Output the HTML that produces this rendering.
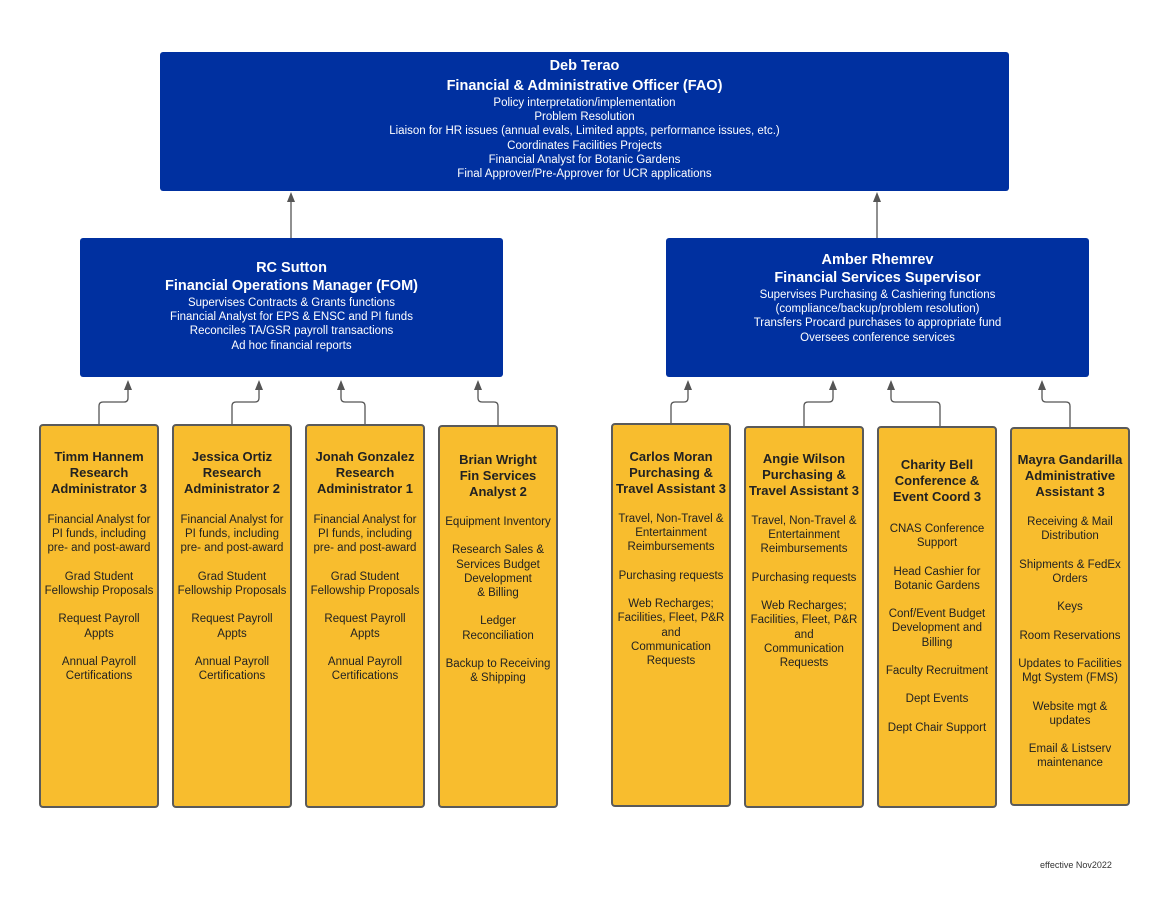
<!DOCTYPE html>
<html><head><meta charset="utf-8"><style>
*{margin:0;padding:0;box-sizing:border-box}
body{width:1169px;height:899px;background:#fff;position:relative;overflow:hidden;font-family:"Liberation Sans",Arial,sans-serif}
.b{position:absolute;background:#0030a0;border-radius:3px;color:#fff;text-align:center}
.y{position:absolute;background:#f8bd2e;border:2px solid #5a5a5a;border-radius:4px;color:#222;text-align:center}
.t{position:absolute;left:0;right:0;text-align:center;white-space:nowrap}
.h{font-weight:bold;font-size:14.5px;line-height:20px}
.h2{font-weight:bold;font-size:14.5px;line-height:18px}
.s{font-size:11.5px;line-height:14.2px}
.yt{font-weight:bold;font-size:13px;line-height:16px}
.ys{font-size:11.5px;line-height:14.2px}
svg{position:absolute;left:0;top:0}
</style></head><body>
<svg width="1169" height="899">
<g stroke="#555" stroke-width="1.3" fill="none">
<path d="M291 238V200"/><path d="M877 238V200"/>
<path d="M99 424V406q0-4 4-4h21q4 0 4-4V388"/>
<path d="M232 424V406q0-4 4-4h19q4 0 4-4V388"/>
<path d="M365 424V406q0-4-4-4h-16q-4 0-4-4V388"/>
<path d="M498 425V406q0-4-4-4h-12q-4 0-4-4V388"/>
<path d="M671 423V406q0-4 4-4h9q4 0 4-4V388"/>
<path d="M804 426V406q0-4 4-4h21q4 0 4-4V388"/>
<path d="M940 426V406q0-4-4-4h-41q-4 0-4-4V388"/>
<path d="M1070 427V406q0-4-4-4h-20q-4 0-4-4V388"/>
</g>
<g fill="#555">
<path d="M291 192l-4 10h8z"/><path d="M877 192l-4 10h8z"/>
<path d="M128 380l-4 10h8z"/><path d="M259 380l-4 10h8z"/><path d="M341 380l-4 10h8z"/><path d="M478 380l-4 10h8z"/>
<path d="M688 380l-4 10h8z"/><path d="M833 380l-4 10h8z"/><path d="M891 380l-4 10h8z"/><path d="M1042 380l-4 10h8z"/>
</g></svg>

<div class="b" style="left:160px;top:52px;width:849px;height:139px">
<div class="t h" style="top:4px">Deb Terao<br>Financial &amp; Administrative Officer (FAO)</div>
<div class="t s" style="top:44px">Policy interpretation/implementation<br>Problem Resolution<br>Liaison for HR issues (annual evals, Limited appts, performance issues, etc.)<br>Coordinates Facilities Projects<br>Financial Analyst for Botanic Gardens<br>Final Approver/Pre-Approver for UCR applications</div>
</div>

<div class="b" style="left:80px;top:238px;width:423px;height:139px">
<div class="t h2" style="top:21px">RC Sutton<br>Financial Operations Manager (FOM)</div>
<div class="t s" style="top:58px">Supervises Contracts &amp; Grants functions<br>Financial Analyst for EPS &amp; ENSC and PI funds<br>Reconciles TA/GSR payroll transactions<br>Ad hoc financial reports</div>
</div>

<div class="b" style="left:666px;top:238px;width:423px;height:139px">
<div class="t h2" style="top:13px">Amber Rhemrev<br>Financial Services Supervisor</div>
<div class="t s" style="top:50px">Supervises Purchasing &amp; Cashiering functions<br>(compliance/backup/problem resolution)<br>Transfers Procard purchases to appropriate fund<br>Oversees conference services</div>
</div>

<div class="y" style="left:39px;top:424px;width:120px;height:384px">
<div class="t yt" style="top:23px">Timm Hannem<br>Research<br>Administrator 3</div>
<div class="t ys" style="top:87px">Financial Analyst for<br>PI funds, including<br>pre- and post-award<br><br>Grad Student<br>Fellowship Proposals<br><br>Request Payroll<br>Appts<br><br>Annual Payroll<br>Certifications</div>
</div>
<div class="y" style="left:172px;top:424px;width:120px;height:384px">
<div class="t yt" style="top:23px">Jessica Ortiz<br>Research<br>Administrator 2</div>
<div class="t ys" style="top:87px">Financial Analyst for<br>PI funds, including<br>pre- and post-award<br><br>Grad Student<br>Fellowship Proposals<br><br>Request Payroll<br>Appts<br><br>Annual Payroll<br>Certifications</div>
</div>
<div class="y" style="left:305px;top:424px;width:120px;height:384px">
<div class="t yt" style="top:23px">Jonah Gonzalez<br>Research<br>Administrator 1</div>
<div class="t ys" style="top:87px">Financial Analyst for<br>PI funds, including<br>pre- and post-award<br><br>Grad Student<br>Fellowship Proposals<br><br>Request Payroll<br>Appts<br><br>Annual Payroll<br>Certifications</div>
</div>
<div class="y" style="left:438px;top:425px;width:120px;height:383px">
<div class="t yt" style="top:25px">Brian Wright<br>Fin Services<br>Analyst 2</div>
<div class="t ys" style="top:88px">Equipment Inventory<br><br>Research Sales &amp;<br>Services Budget<br>Development<br>&amp; Billing<br><br>Ledger<br>Reconciliation<br><br>Backup to Receiving<br>&amp; Shipping</div>
</div>

<div class="y" style="left:611px;top:423px;width:120px;height:384px">
<div class="t yt" style="top:24px">Carlos Moran<br>Purchasing &amp;<br>Travel Assistant 3</div>
<div class="t ys" style="top:87px">Travel, Non-Travel &amp;<br>Entertainment<br>Reimbursements<br><br>Purchasing requests<br><br>Web Recharges;<br>Facilities, Fleet, P&amp;R<br>and<br>Communication<br>Requests</div>
</div>
<div class="y" style="left:744px;top:426px;width:120px;height:382px">
<div class="t yt" style="top:23px">Angie Wilson<br>Purchasing &amp;<br>Travel Assistant 3</div>
<div class="t ys" style="top:86px">Travel, Non-Travel &amp;<br>Entertainment<br>Reimbursements<br><br>Purchasing requests<br><br>Web Recharges;<br>Facilities, Fleet, P&amp;R<br>and<br>Communication<br>Requests</div>
</div>
<div class="y" style="left:877px;top:426px;width:120px;height:382px">
<div class="t yt" style="top:29px">Charity Bell<br>Conference &amp;<br>Event Coord 3</div>
<div class="t ys" style="top:94px">CNAS Conference<br>Support<br><br>Head Cashier for<br>Botanic Gardens<br><br>Conf/Event Budget<br>Development and<br>Billing<br><br>Faculty Recruitment<br><br>Dept Events<br><br>Dept Chair Support</div>
</div>
<div class="y" style="left:1010px;top:427px;width:120px;height:379px">
<div class="t yt" style="top:23px">Mayra Gandarilla<br>Administrative<br>Assistant 3</div>
<div class="t ys" style="top:86px">Receiving &amp; Mail<br>Distribution<br><br>Shipments &amp; FedEx<br>Orders<br><br>Keys<br><br>Room Reservations<br><br>Updates to Facilities<br>Mgt System (FMS)<br><br>Website mgt &amp;<br>updates<br><br>Email &amp; Listserv<br>maintenance</div>
</div>

<div style="position:absolute;left:1040px;top:860px;font-size:9px;color:#333">effective Nov2022</div>
</body></html>
